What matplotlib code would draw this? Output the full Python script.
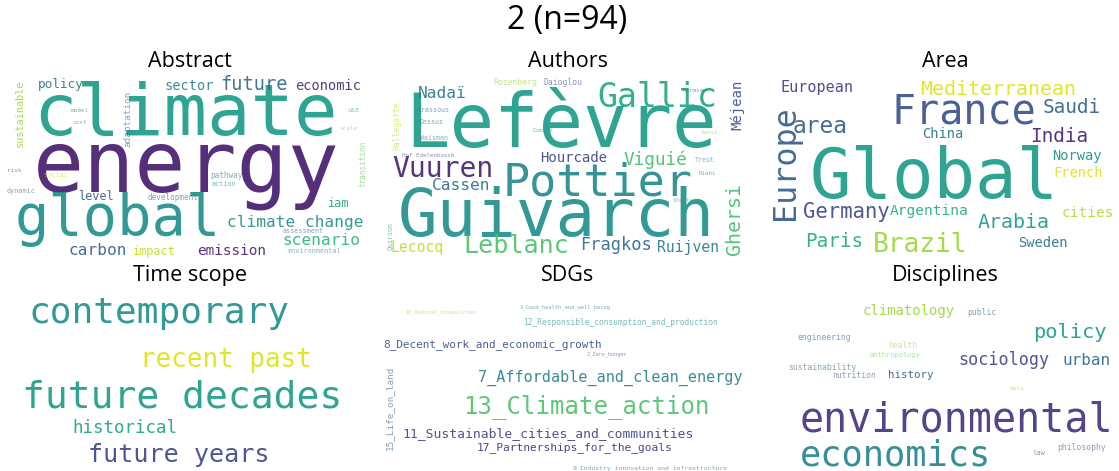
import matplotlib
matplotlib.use("Agg")
import matplotlib.pyplot as plt

# ---- data: words and their relative weights (top word = 1.0) ----
abstract_words = ["energy", "climate", "global", "future", "climate change", "scenario",
                  "carbon", "emission", "economic", "sector", "policy", "impact", "iam",
                  "level", "development", "sustainable", "adaptation", "transition",
                  "pathway", "model", "cost", "social", "dynamic", "action",
                  "assessment", "environmental", "use", "scale", "risk"]
abstract_weights = [1.0, 0.85, 0.67, 0.22, 0.19, 0.19, 0.19, 0.17, 0.16, 0.16, 0.15,
                    0.14, 0.14, 0.14, 0.09, 0.12, 0.11, 0.09, 0.09, 0.07, 0.07, 0.08,
                    0.08, 0.08, 0.08, 0.08, 0.08, 0.07, 0.07]

authors_words = ["Lefèvre", "Guivarch", "Pottier", "Gallic", "Vuuren", "Leblanc", "Ghersi",
                 "Viguié", "Fragkos", "Nadaï", "Cassen", "Lecocq", "Ruijven", "Hourcade",
                 "Méjean", "Daioglou", "Rozenberg", "Hallegatte", "Crassous", "Dessus",
                 "Waisman", "Hof Edelenbosch", "Treut", "Quirion", "Stehfest", "Harmsen",
                 "Riahi", "Combet", "Sassi"]
authors_weights = [1.0, 0.89, 0.61, 0.45, 0.38, 0.34, 0.27, 0.24, 0.23, 0.22, 0.22, 0.2,
                   0.2, 0.19, 0.19, 0.11, 0.11, 0.11, 0.09, 0.09, 0.09, 0.08, 0.09, 0.09,
                   0.08, 0.08, 0.08, 0.08, 0.08]

area_words = ["Global", "France", "Europe", "Brazil", "area", "Germany", "Mediterranean",
              "Arabia", "Saudi", "India", "Paris", "European", "cities", "Argentina",
              "China", "Norway", "French", "Sweden"]
area_weights = [1.0, 0.58, 0.46, 0.38, 0.33, 0.3, 0.29, 0.29, 0.28, 0.28, 0.28, 0.22,
                0.21, 0.21, 0.2, 0.2, 0.2, 0.2]

time_words = ["future decades", "contemporary", "recent past", "future years", "historical"]
time_weights = [1.0, 0.95, 0.68, 0.66, 0.46]

sdg_words = ["13_Climate_action", "7_Affordable_and_clean_energy",
             "11_Sustainable_cities_and_communities", "17_Partnerships_for_the_goals",
             "8_Decent_work_and_economic_growth", "15_Life_on_land",
             "12_Responsible_consumption_and_production",
             "9_Industry_innovation_and_infrastructure", "3_Good_health_and_well_being",
             "10_Reduced_inequalities", "2_Zero_hunger"]
sdg_weights = [1.0, 0.63, 0.54, 0.47, 0.46, 0.39, 0.33, 0.27, 0.23, 0.22, 0.22]

disc_words = ["environmental", "economics", "policy", "sociology", "urban", "climatology",
              "history", "public", "engineering", "health", "sustainability", "nutrition",
              "philosophy", "anthropology", "law", "data"]
disc_weights = [1.0, 0.88, 0.51, 0.42, 0.4, 0.35, 0.27, 0.2, 0.2, 0.2, 0.2, 0.2, 0.2,
                0.18, 0.18, 0.15]

titles = ["Abstract", "Authors", "Area", "Time scope", "SDGs", "Disciplines"]
suptitle = "2 (n=94)"

# ---- layout of each cloud: (x, y, vertical) in panel pixels, plus viridis colour ----
abstract_pos = [(28, 120, 0), (28, 63, 0), (10, 163, 0), (215, 18, 0), (222, 155, 0),
                (277, 173, 0), (63, 183, 0), (192, 183, 0), (290, 18, 0), (160, 18, 0),
                (33, 16, 0), (128, 183, 0), (323, 135, 0), (73, 128, 0), (142, 128, 0),
                (10, 75, 1), (118, 75, 1), (353, 115, 1), (205, 106, 0), (66, 40, 0),
                (67, 52, 0), (38, 105, 0), (2, 121, 0), (207, 114, 0), (278, 161, 0),
                (283, 181, 0), (342, 40, 0), (334, 58, 0), (2, 100, 0)]
abstract_col = [0.08, 0.55, 0.5, 0.33, 0.5, 0.65, 0.3, 0.1, 0.12, 0.45, 0.4, 0.9, 0.6,
                0.3, 0.3, 0.85, 0.35, 0.75, 0.4, 0.35, 0.5, 0.9, 0.3, 0.45, 0.3, 0.45,
                0.6, 0.8, 0.25]

authors_pos = [(22, 75, 0), (15, 164, 0), (120, 123, 0), (214, 35, 0), (9, 105, 0),
               (80, 181, 0), (342, 183, 1), (240, 93, 0), (197, 178, 0), (35, 26, 0),
               (49, 118, 0), (7, 180, 0), (274, 180, 0), (157, 90, 0), (347, 58, 1),
               (160, 13, 0), (110, 13, 0), (10, 78, 1), (35, 40, 0), (37, 52, 0),
               (37, 68, 0), (19, 85, 0), (312, 90, 0), (4, 178, 1), (290, 130, 0),
               (300, 20, 0), (316, 103, 0), (150, 60, 0), (318, 62, 0)]
authors_col = [0.55, 0.5, 0.48, 0.6, 0.1, 0.72, 0.7, 0.7, 0.35, 0.4, 0.38, 0.9, 0.42,
               0.2, 0.25, 0.25, 0.85, 0.9, 0.3, 0.35, 0.4, 0.2, 0.45, 0.5, 0.6, 0.3,
               0.35, 0.55, 0.8]

area_pos = [(50, 126, 0), (132, 51, 0), (10, 148, 1), (113, 180, 0), (33, 61, 0),
            (43, 146, 0), (160, 23, 0), (218, 156, 0), (283, 41, 0), (270, 70, 0),
            (45, 175, 0), (20, 20, 0), (302, 145, 0), (130, 143, 0), (162, 66, 0),
            (292, 88, 0), (293, 105, 0), (258, 175, 0)]
area_col = [0.55, 0.25, 0.3, 0.85, 0.3, 0.22, 0.95, 0.55, 0.32, 0.1, 0.62, 0.18, 0.88,
            0.62, 0.4, 0.5, 0.95, 0.38]

time_pos = [(17, 122, 0), (23, 37, 0), (135, 81, 0), (83, 176, 0), (67, 147, 0)]
time_col = [0.55, 0.5, 0.95, 0.22, 0.58]

sdg_pos = [(80, 127, 0), (95, 96, 0), (19, 151, 0), (94, 164, 0), (0, 61, 0), (2, 164, 1),
           (140, 39, 0), (190, 183, 0), (137, 22, 0), (22, 27, 0), (204, 69, 0)]
sdg_col = [0.72, 0.45, 0.2, 0.15, 0.25, 0.3, 0.5, 0.35, 0.45, 0.85, 0.25]

disc_pos = [(40, 146, 0), (40, 180, 0), (273, 52, 0), (198, 79, 0), (302, 79, 0),
            (103, 29, 0), (128, 92, 0), (207, 29, 0), (38, 54, 0), (128, 62, 0),
            (28, 84, 0), (72, 92, 0), (297, 164, 0), (110, 71, 0), (272, 169, 0),
            (250, 104, 0)]
disc_col = [0.15, 0.45, 0.55, 0.22, 0.35, 0.85, 0.3, 0.3, 0.3, 0.88, 0.35, 0.3, 0.3,
            0.8, 0.25, 0.85]

panels = [
    (abstract_words, abstract_weights, abstract_pos, abstract_col, 85),
    (authors_words, authors_weights, authors_pos, authors_col, 74),
    (area_words, area_weights, area_pos, area_col, 69),
    (time_words, time_weights, time_pos, time_col, 38),
    (sdg_words, sdg_weights, sdg_pos, sdg_col, 24),
    (disc_words, disc_weights, disc_pos, disc_col, 40),
]

W, H = 1119, 471
PW, PH = 370, 185
lefts = [5, 383, 760]
tops = [72, 286]

fig = plt.figure(figsize=(W / 100, H / 100), dpi=100)
fig.patch.set_facecolor("white")
cmap = plt.get_cmap("viridis")

for i, (words, weights, pos, cols, max_px) in enumerate(panels):
    left, top = lefts[i % 3], tops[i // 3]
    ax = fig.add_axes([left / W, 1 - (top + PH) / H, PW / W, PH / H])
    ax.set_xlim(0, PW)
    ax.set_ylim(PH, 0)
    ax.axis("off")
    ax.set_title(titles[i], fontsize=15.5, family="Open Sans", pad=1)
    for word, w, (x, y, vert), c in zip(words, weights, pos, cols):
        px = w * max_px
        alpha = 0.6 if px < 10 else 0.92
        if vert:
            ax.text(x, y, word, fontsize=px * 0.72, family="DejaVu Sans Mono",
                    color=cmap(c), alpha=alpha, rotation=90, ha="left", va="bottom")
        else:
            ax.text(x, y, word, fontsize=px * 0.72, family="DejaVu Sans Mono",
                    color=cmap(c), alpha=alpha, ha="left", va="baseline")

fig.text(567 / W, 1 - 21 / H, suptitle, fontsize=23, family="Open Sans",
         ha="center", va="center")

fig.savefig("out.png", dpi=100, facecolor="white")
